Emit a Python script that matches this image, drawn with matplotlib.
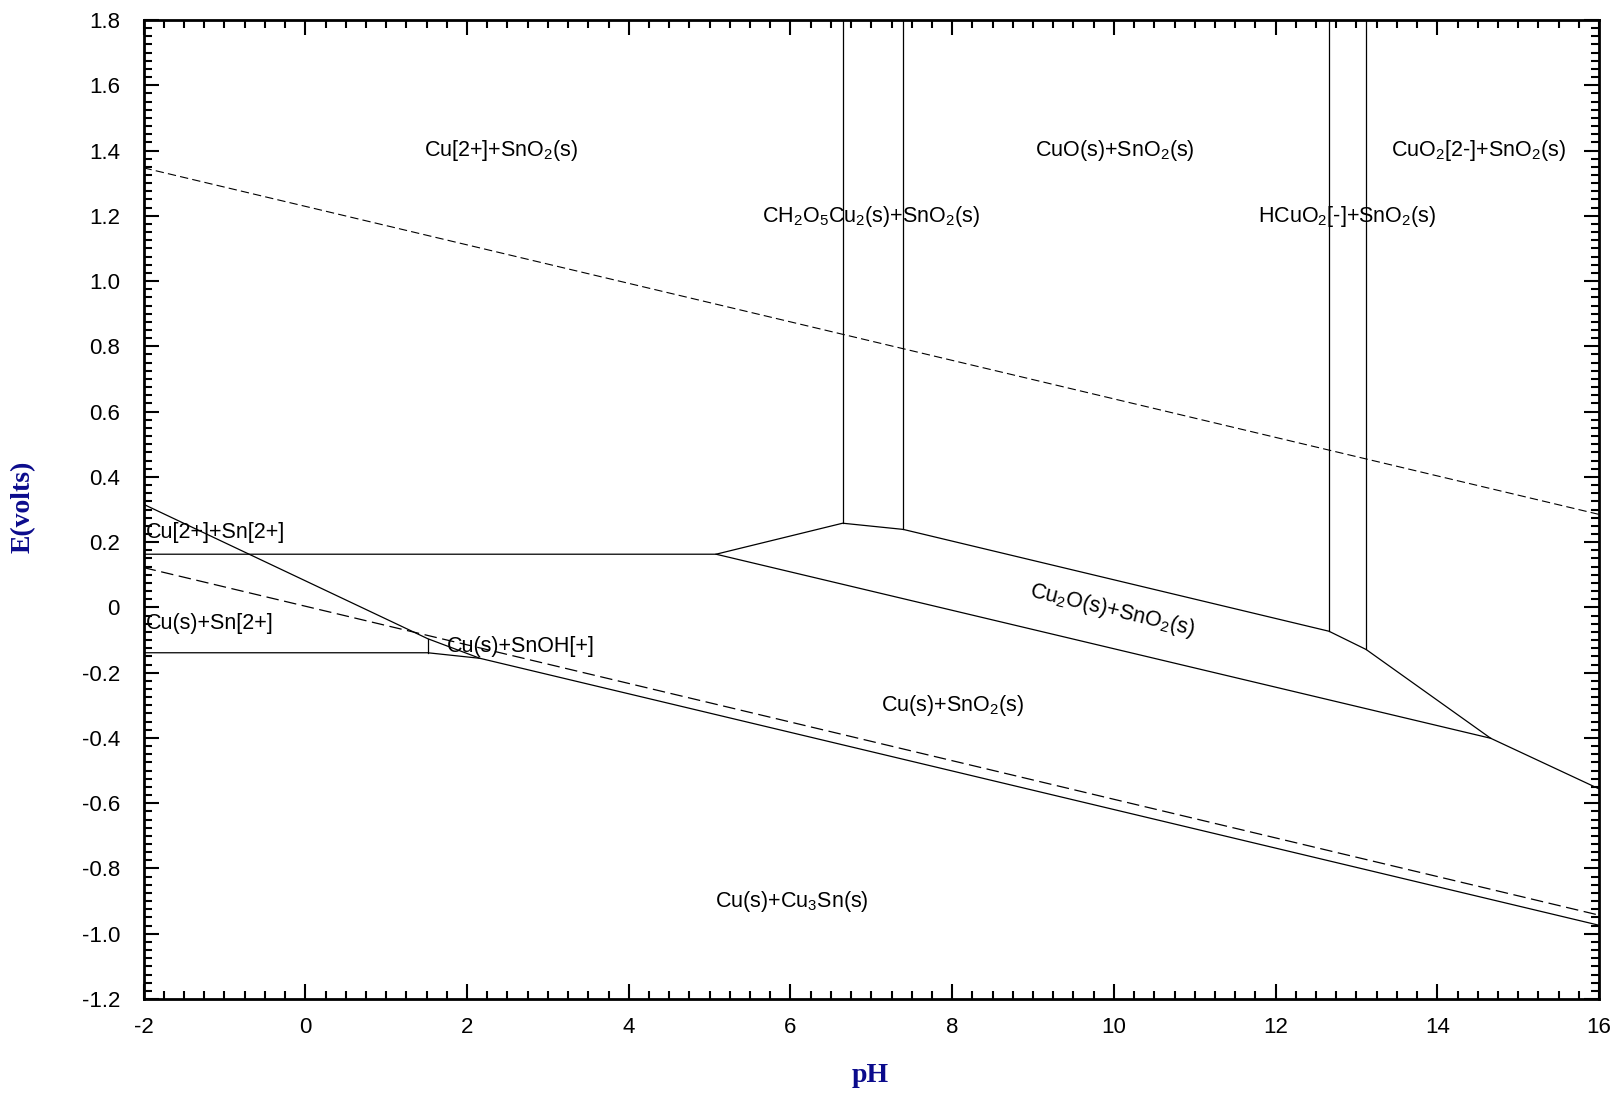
import matplotlib
matplotlib.use("Agg")
import matplotlib.pyplot as plt
from matplotlib.ticker import MultipleLocator

plt.rcParams['font.family'] = ['Liberation Sans', 'DejaVu Sans']
plt.rcParams['mathtext.fontset'] = 'custom'
plt.rcParams['mathtext.rm'] = 'Liberation Sans'
plt.rcParams['mathtext.default'] = 'regular'
plt.rcParams['axes.unicode_minus'] = False
plt.rcParams['lines.scale_dashes'] = False

# water stability lines (dashed)
o2_ph = [-2, 16]
o2_e = [1.347, 0.285]
h2_ph = [-2, 16]
h2_e = [0.122, -0.943]

# phase boundaries, pH vs E(volts)
cu2_cu_ph = [-2, 1.515, 2.16]
cu2_cu_e = [0.316, -0.096, -0.156]
sn_low_ph = [-2, 1.515, 2.16, 16]
sn_low_e = [-0.139, -0.139, -0.156, -0.974]
snoh_ph = [1.515, 1.515]
snoh_e = [-0.139, -0.096]
cu2o_top_ph = [-2, 5.08, 6.646, 7.395, 12.66, 13.12, 14.66, 16]
cu2o_top_e = [0.163, 0.163, 0.258, 0.239, -0.073, -0.129, -0.401, -0.556]
cu2o_low_ph = [5.08, 14.66]
cu2o_low_e = [0.163, -0.401]
vert_ph = [6.646, 7.395, 12.66, 13.12]
vert_e = [0.258, 0.239, -0.073, -0.129]

# region names
labels = ['Cu[2+]+SnO$_2$(s)', 'CuO(s)+SnO$_2$(s)', 'CuO$_2$[2-]+SnO$_2$(s)',
          'CH$_2$O$_5$Cu$_2$(s)+SnO$_2$(s)', 'HCuO$_2$[-]+SnO$_2$(s)',
          'Cu(s)+SnO$_2$(s)', 'Cu(s)+Cu$_3$Sn(s)']
label_ph = [2.42, 10.01, 14.51, 7.0, 12.89, 8.01, 6.02]
label_e = [1.40, 1.40, 1.40, 1.198, 1.198, -0.30, -0.90]
left_labels = ['Cu[2+]+Sn[2+]', 'Cu(s)+Sn[2+]', 'Cu(s)+SnOH[+]']
left_ph = [-1.97, -1.97, 1.75]
left_e = [0.23, -0.048, -0.12]

xticks = [-2, 0, 2, 4, 6, 8, 10, 12, 14, 16]
yticks = [-1.2, -1.0, -0.8, -0.6, -0.4, -0.2, 0, 0.2, 0.4, 0.6, 0.8, 1.0, 1.2, 1.4, 1.6, 1.8]
ytick_labels = ['-1.2', '-1.0', '-0.8', '-0.6', '-0.4', '-0.2', '0', '0.2', '0.4',
                '0.6', '0.8', '1.0', '1.2', '1.4', '1.6', '1.8']

fig = plt.figure(figsize=(16.15, 10.93), dpi=100)
ax = fig.add_axes([0.0889, 0.086, 0.9012, 0.8957])

lw = 0.9
ax.plot(o2_ph, o2_e, color='black', lw=0.8, dashes=(6, 3))
ax.plot(h2_ph, h2_e, color='black', lw=0.9, dashes=(9, 4))
ax.plot(cu2_cu_ph, cu2_cu_e, color='black', lw=lw)
ax.plot(sn_low_ph, sn_low_e, color='black', lw=lw)
ax.plot(snoh_ph, snoh_e, color='black', lw=lw)
ax.plot(cu2o_top_ph, cu2o_top_e, color='black', lw=lw)
ax.plot(cu2o_low_ph, cu2o_low_e, color='black', lw=lw)
for p, e in zip(vert_ph, vert_e):
    ax.plot([p, p], [e, 1.8], color='black', lw=lw)

fs = 15.5
for t, p, e in zip(labels, label_ph, label_e):
    ax.text(p, e, t, ha='center', va='center', fontsize=fs)
for t, p, e in zip(left_labels, left_ph, left_e):
    ax.text(p, e, t, ha='left', va='center', fontsize=fs)
ax.text(9.98, -0.01, 'Cu$_2$O(s)+SnO$_2$(s)', ha='center', va='center',
        fontsize=fs, rotation=-13.4, rotation_mode='anchor')

ax.set_xlim(-2, 16)
ax.set_ylim(-1.2, 1.8)
ax.set_xticks(xticks)
ax.set_yticks(yticks)
ax.set_yticklabels(ytick_labels)
ax.xaxis.set_minor_locator(MultipleLocator(0.25))
ax.yaxis.set_minor_locator(MultipleLocator(0.025))
ax.tick_params(which='both', direction='in', top=True, right=True, width=1.5, labelsize=16)
ax.tick_params(which='major', length=10.5)
ax.tick_params(which='minor', length=5.5)
ax.tick_params(axis='y', pad=17)
ax.tick_params(axis='x', pad=13)
for s in ax.spines.values():
    s.set_linewidth(2)

navy = '#0b0b8c'
fig.text(0.539, 0.016, 'pH', ha='center', va='center', fontsize=20,
         fontweight='bold', family='Liberation Serif', color=navy)
fig.text(0.0142, 0.536, 'E(volts)', ha='center', va='center', fontsize=20,
         fontweight='bold', family='Liberation Serif', color=navy, rotation=90)

fig.savefig('out.png', dpi=100)
